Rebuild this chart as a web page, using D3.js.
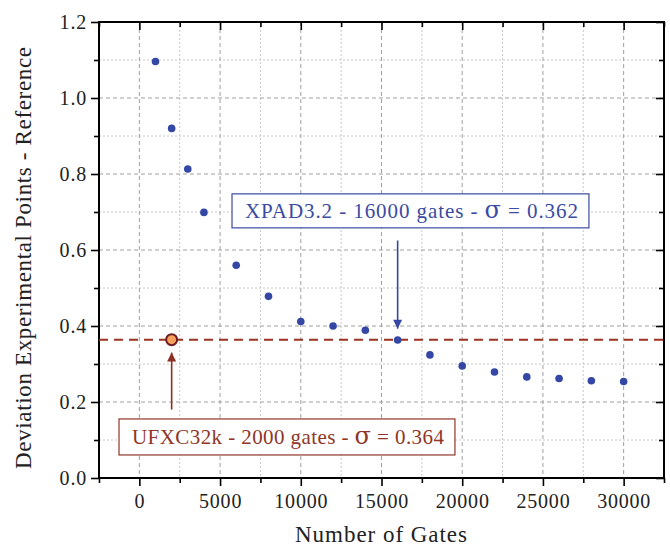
<!DOCTYPE html>
<html>
<head>
<meta charset="utf-8">
<script src="https://cdn.jsdelivr.net/npm/d3@7"></script>
<style>
  body { margin: 0; background: #fff; }
  text { font-family: "Liberation Serif", "DejaVu Serif", serif; }
</style>
</head>
<body>
<svg id="chart" width="670" height="547"></svg>
<script>
// data
var gates = [1000, 2000, 3000, 4000, 6000, 8000, 10000, 12000, 14000, 16000, 18000, 20000, 22000, 24000, 26000, 28000, 30000];
var deviation = [1.096, 0.920, 0.813, 0.699, 0.560, 0.478, 0.412, 0.400, 0.389, 0.363, 0.324, 0.295, 0.279, 0.266, 0.262, 0.256, 0.254];
var ufxc = {gates: 2000, sigma: 0.364};
var xpad = {gates: 16000, sigma: 0.362};
var xTicks = [0, 5000, 10000, 15000, 20000, 25000, 30000];
var yTicks = [0.0, 0.2, 0.4, 0.6, 0.8, 1.0, 1.2];

var svg = d3.select("#chart"),
    margin = {top: 22, right: 6, bottom: 69, left: 99},
    width = +svg.attr("width") - margin.left - margin.right,
    height = +svg.attr("height") - margin.top - margin.bottom;

var x = d3.scaleLinear().domain([-2500, 32500]).range([0, width]);
var y = d3.scaleLinear().domain([0, 1.2]).range([height, 0]);

var g = svg.append("g").attr("transform", "translate(" + margin.left + "," + margin.top + ")");

var xMinor = d3.range(-2500, 32501, 2500).filter(function(v) { return v % 5000 != 0; });
var yMinor = d3.range(0.1, 1.2, 0.2);

// grid
g.selectAll(".vminor").data(xMinor).enter().append("line")
  .attr("x1", d => x(d)).attr("x2", d => x(d)).attr("y1", 0).attr("y2", height)
  .attr("stroke", "#c8c8c8").attr("stroke-width", 1).attr("stroke-dasharray", "2,2");
g.selectAll(".hminor").data(yMinor).enter().append("line")
  .attr("y1", d => y(d)).attr("y2", d => y(d)).attr("x1", 0).attr("x2", width)
  .attr("stroke", "#c8c8c8").attr("stroke-width", 1).attr("stroke-dasharray", "2,2");
g.selectAll(".vmajor").data(xTicks).enter().append("line")
  .attr("x1", d => x(d)).attr("x2", d => x(d)).attr("y1", 0).attr("y2", height)
  .attr("stroke", "#a0a0a0").attr("stroke-width", 1).attr("stroke-dasharray", "4,3");
g.selectAll(".hmajor").data(yTicks.slice(1, -1)).enter().append("line")
  .attr("y1", d => y(d)).attr("y2", d => y(d)).attr("x1", 0).attr("x2", width)
  .attr("stroke", "#a0a0a0").attr("stroke-width", 1).attr("stroke-dasharray", "4,3");

// axes
var fmtY = d3.format(".1f");
var xAxis = g.append("g").attr("transform", "translate(0," + height + ")")
  .call(d3.axisBottom(x).tickValues(xTicks).tickSize(8).tickPadding(8).tickFormat(d3.format("d")));
xAxis.append("g").call(d3.axisBottom(x).tickValues(xMinor).tickSize(5).tickFormat(""));
var yAxis = g.append("g")
  .call(d3.axisLeft(y).tickValues(yTicks).tickSize(8).tickPadding(4).tickFormat(fmtY));
yAxis.append("g").call(d3.axisLeft(y).tickValues(yMinor).tickSize(5).tickFormat(""));
var topAxis = g.append("g")
  .call(d3.axisBottom(x).tickValues(xTicks).tickSize(8).tickFormat(""));
topAxis.append("g").call(d3.axisBottom(x).tickValues(xMinor).tickSize(5).tickFormat(""));
var rightAxis = g.append("g").attr("transform", "translate(" + width + ",0)")
  .call(d3.axisLeft(y).tickValues(yTicks).tickSize(8).tickFormat(""));
rightAxis.append("g").call(d3.axisLeft(y).tickValues(yMinor).tickSize(5).tickFormat(""));

[xAxis, yAxis, topAxis, rightAxis].forEach(function(a) {
  a.selectAll(".domain").remove();
  a.selectAll("line").attr("stroke", "#000").attr("stroke-width", 1.6);
  a.selectAll("text").attr("fill", "#222").style("font-size", "20px")
    .style("letter-spacing", "0.8px")
    .style("font-family", "'Liberation Serif', serif");
});

// frame
g.append("rect").attr("x", 0).attr("y", 0).attr("width", width).attr("height", height)
  .attr("fill", "none").attr("stroke", "#000").attr("stroke-width", 2);

// reference line
g.append("line")
  .attr("x1", 0).attr("x2", width).attr("y1", y(ufxc.sigma)).attr("y2", y(ufxc.sigma))
  .attr("stroke", "#9c3322").attr("stroke-width", 2).attr("stroke-dasharray", "9,6");

// points
g.selectAll(".pt").data(gates).enter().append("circle")
  .attr("cx", d => x(d)).attr("cy", (d, i) => y(deviation[i])).attr("r", 3.8)
  .attr("fill", "#3447a5");

g.append("circle").attr("cx", x(ufxc.gates)).attr("cy", y(ufxc.sigma)).attr("r", 5.5)
  .attr("fill", "#f7a15d").attr("stroke", "#6e1e22").attr("stroke-width", 2);

// arrows
var defs = svg.append("defs");
function marker(id, color) {
  defs.append("marker").attr("id", id).attr("viewBox", "0 0 10 10")
    .attr("refX", 10).attr("refY", 5).attr("markerWidth", 14).attr("markerHeight", 9)
    .attr("markerUnits", "userSpaceOnUse").attr("orient", "auto")
    .append("path").attr("d", "M0,0 L10,5 L0,10 Z").attr("fill", color);
}
marker("arrRed", "#8f2e22");
marker("arrBlue", "#3447a5");

g.append("line")
  .attr("x1", x(ufxc.gates)).attr("x2", x(ufxc.gates))
  .attr("y1", y(0.18)).attr("y2", y(0.33))
  .attr("stroke", "#8f2e22").attr("stroke-width", 1.6).attr("marker-end", "url(#arrRed)");
g.append("line")
  .attr("x1", x(xpad.gates)).attr("x2", x(xpad.gates))
  .attr("y1", y(0.625)).attr("y2", y(0.393))
  .attr("stroke", "#3447a5").attr("stroke-width", 1.6).attr("marker-end", "url(#arrBlue)");

// annotation boxes: x0,x1 in gates, yc in deviation units
function label(x0, x1, yc, h, color, parts) {
  var grp = g.append("g");
  var bx = x(x0), bw = x(x1) - x(x0), cy = y(yc);
  grp.append("rect").attr("x", bx).attr("y", cy - h / 2)
    .attr("width", bw).attr("height", h)
    .attr("fill", "#fff").attr("stroke", color).attr("stroke-width", 1.2);
  var t = grp.append("text").attr("x", bx + 13).attr("y", cy + 7)
    .attr("fill", color).style("font-size", "21px")
    .attr("textLength", bw - 24).attr("lengthAdjust", "spacing");
  parts.forEach(function(p) {
    var s = t.append("tspan").text(p.t);
    if (p.sigma) s.style("font-size", "24px").style("font-family", "'DejaVu Serif', serif");
  });
}
label(-1260, 19550, 0.108, 36, "#8f3628", [{t: "UFXC32k - 2000 gates - "}, {t: "σ", sigma: true}, {t: " = 0.364"}]);
label(5740, 27850, 0.703, 34, "#3b4ba2", [{t: "XPAD3.2 - 16000 gates - "}, {t: "σ", sigma: true}, {t: " = 0.362"}]);

// axis titles
svg.append("text").attr("x", 295).attr("y", 542)
  .attr("fill", "#222").style("font-size", "23px")
  .attr("textLength", 172).attr("lengthAdjust", "spacing").text("Number of Gates");
svg.append("text")
  .attr("transform", "translate(31,469) rotate(-90)")
  .attr("fill", "#222").style("font-size", "23px")
  .attr("textLength", 422).attr("lengthAdjust", "spacing").text("Deviation Experimental Points - Reference");
</script>
</body>
</html>
